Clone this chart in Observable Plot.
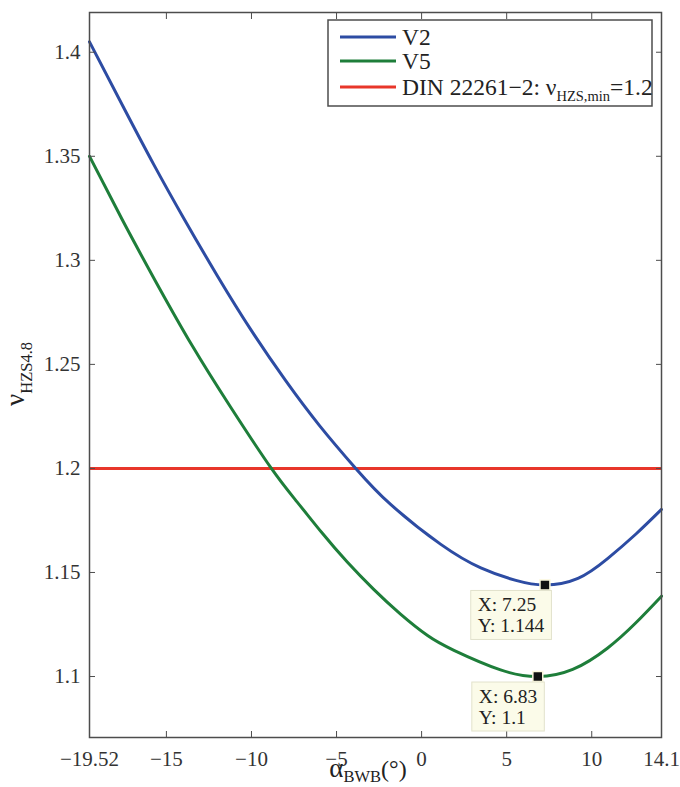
<!DOCTYPE html>
<html><head><meta charset="utf-8">
<script src="https://cdn.jsdelivr.net/npm/d3@7"></script>
<script src="https://cdn.jsdelivr.net/npm/@observablehq/plot@0.6"></script>
<style>
body{margin:0;background:#fff;}
#chart{width:680px;height:787px;}
#chart svg text{font-family:'Liberation Serif','Times New Roman','DejaVu Serif',serif;}
</style></head><body><div id="chart"></div>
<script>
// ---- data ----
const v2X = [-19.52, -17.5, -15.74, -14, -12, -10, -8, -6, -3.87, -1.82, 1.13, 3.48, 5.54, 7.25, 9.19, 10.93, 12.6, 14.1];
const v2Y = [1.405, 1.3732, 1.346, 1.3205, 1.2925, 1.2662, 1.2423, 1.2206, 1.200, 1.1827, 1.1635, 1.1522, 1.1462, 1.144, 1.1472, 1.1567, 1.1685, 1.1803];
const v5X = [-19.52, -17.6, -15.64, -13.47, -11.23, -8.84, -7.31, -5.82, -4.37, -2.83, -1.24, 0.35, 1.9, 4.64, 6.83, 8.88, 10.92, 12.58, 14.1];
const v5Y = [1.350, 1.3196, 1.290, 1.2588, 1.2295, 1.2001, 1.1838, 1.1687, 1.155, 1.142, 1.130, 1.1197, 1.1126, 1.1032, 1.100, 1.1034, 1.1136, 1.1257, 1.1386];
const dinLimit = [1.2];
const seriesNames = ["V2", "V5", "DIN 22261\u22122: \u03bd"];
const seriesColors = ["#2d4ca3", "#1e7e3a", "#e8362a"];
const tipX = [7.25, 6.83];
const tipY = [1.144, 1.1];
const tipLabels = [["X: 7.25", "Y: 1.144"], ["X: 6.83", "Y: 1.1"]];
const xTicks = [-19.52, -15, -10, -5, 0, 5, 10, 14.1];
const xTickLabels = ["\u221219.52", "\u221215", "\u221210", "\u22125", "0", "5", "10", "14.1"];
const yTicks = [1.1, 1.15, 1.2, 1.25, 1.3, 1.35, 1.4];
const yTickLabels = ["1.1", "1.15", "1.2", "1.25", "1.3", "1.35", "1.4"];
const xDomain = [-19.52, 14.1];
const yDomain = [1.0707, 1.4191];

const v2 = v2X.map((x, i) => ({x, y: v2Y[i]}));
const v5 = v5X.map((x, i) => ({x, y: v5Y[i]}));
const tips = tipX.map((x, i) => ({x, y: tipY[i]}));

const font = "'Liberation Serif','Times New Roman','DejaVu Serif',serif";
const axisColor = "#4d4d4d";

const chart = Plot.plot({
  width: 680, height: 787,
  marginLeft: 89, marginRight: 19, marginTop: 12, marginBottom: 50,
  style: {fontFamily: font, fontSize: "21px", background: "#fff", color: "#333"},
  x: {domain: xDomain},
  y: {domain: yDomain},
  marks: [
    Plot.ruleY(dinLimit, {stroke: seriesColors[2], strokeWidth: 3}),
    Plot.line(v2, {x: "x", y: "y", stroke: seriesColors[0], strokeWidth: 3, curve: "natural"}),
    Plot.line(v5, {x: "x", y: "y", stroke: seriesColors[1], strokeWidth: 3, curve: "natural"}),
    Plot.axisX(xTicks, {anchor: "bottom", tickSize: -6, tickPadding: 20, stroke: axisColor, fill: "#333",
      tickFormat: d => xTickLabels[xTicks.indexOf(d)], label: null}),
    Plot.axisX(xTicks, {anchor: "top", tickSize: -6, stroke: axisColor, tickFormat: () => "", label: null}),
    Plot.axisY(yTicks, {anchor: "left", tickSize: -6, tickPadding: 15, stroke: axisColor, fill: "#333",
      tickFormat: d => yTickLabels[yTicks.indexOf(d)], label: null}),
    Plot.axisY(yTicks, {anchor: "right", tickSize: -6, stroke: axisColor, tickFormat: () => "", label: null}),
    Plot.frame({stroke: axisColor, strokeWidth: 1.5}),
    Plot.dot(tips, {x: "x", y: "y", symbol: "square", r: 5.6, fill: "#111", stroke: "#fbf8dc", strokeWidth: 1.5})
  ]
});
document.getElementById("chart").appendChild(chart);

const svg = d3.select(chart);
const sx = chart.scale("x"), sy = chart.scale("y");

// data tips
tips.forEach((t, i) => {
  const px = sx.apply(t.x), py = sy.apply(t.y);
  const g = svg.append("g");
  const rect = g.append("rect");
  const txt = g.append("text").attr("font-family", font).attr("font-size", 19.5)
    .attr("fill", "#222").attr("text-anchor", "start");
  tipLabels[i].forEach((s, j) => txt.append("tspan").attr("x", 0).attr("y", j * 21).text(s));
  const w = txt.node().getBBox().width;
  const right = px + 7, top = py + 6;
  const left = right - w - 14;
  txt.attr("transform", `translate(${left + 7},${top + 21})`);
  rect.attr("x", left).attr("y", top).attr("width", right - left).attr("height", 49)
    .attr("fill", "#fbfbe9").attr("stroke", "#e2e2cc").attr("stroke-width", 1);
});

// legend
const lg = svg.append("g");
lg.append("rect").attr("x", 328).attr("y", 20).attr("width", 324).attr("height", 86)
  .attr("fill", "#fff").attr("stroke", axisColor).attr("stroke-width", 1.5);
const rowY = [37, 61, 87];
seriesNames.forEach((name, i) => {
  lg.append("line").attr("x1", 340).attr("x2", 396).attr("y1", rowY[i]).attr("y2", rowY[i])
    .attr("stroke", seriesColors[i]).attr("stroke-width", 3);
  const t = lg.append("text").attr("x", 402).attr("y", rowY[i] + 8).attr("text-anchor", "start")
    .attr("font-family", font).attr("font-size", 23.5).attr("fill", "#222");
  t.append("tspan").text(name);
  if (i === 2) {
    t.append("tspan").attr("font-size", 14.5).attr("dy", 6).text("HZS,min");
    t.append("tspan").attr("dy", -6).text("=1.2");
  }
});

// axis titles
const yl = svg.append("text").attr("transform", "translate(24,374) rotate(-90)")
  .attr("text-anchor", "middle").attr("font-family", font).attr("font-size", 27).attr("fill", "#222");
yl.append("tspan").text("\u03bd");
yl.append("tspan").attr("font-size", 16.5).attr("dy", 8).text("HZS4.8");

const xl = svg.append("text").attr("x", 368).attr("y", 777)
  .attr("text-anchor", "middle").attr("font-family", font).attr("font-size", 27).attr("fill", "#222");
xl.append("tspan").text("\u03b1");
xl.append("tspan").attr("font-size", 16.5).attr("dy", 5).text("BWB");
xl.append("tspan").attr("dy", -5).attr("font-size", 24).text("(\u00b0)");
</script>
</body></html>
